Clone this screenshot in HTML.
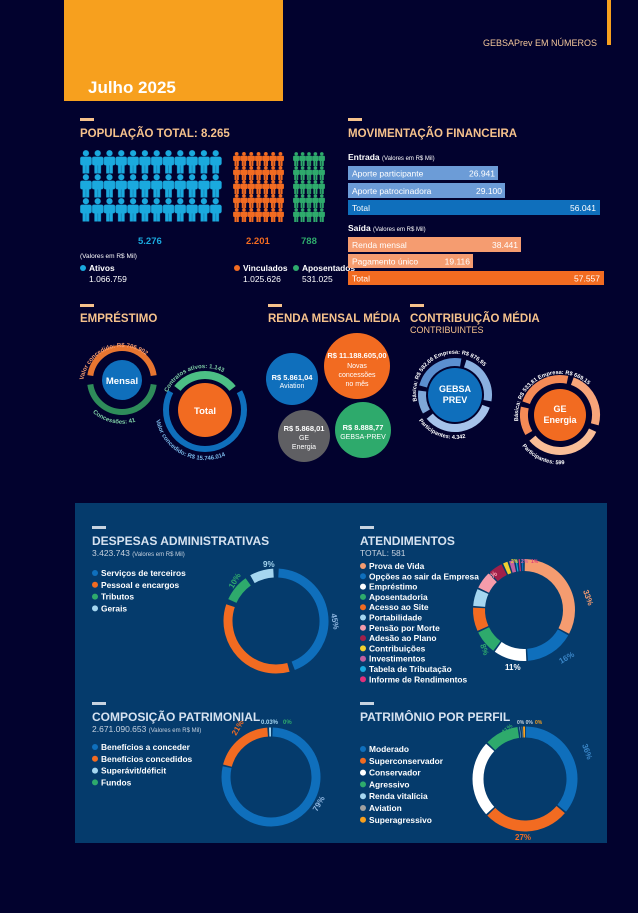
<!DOCTYPE html>
<html><head><meta charset="utf-8"><style>
html,body{margin:0;padding:0;background:#02022e;width:638px;height:913px;overflow:hidden}
svg{display:block;font-family:"Liberation Sans",sans-serif}
.t{font-weight:bold;fill:#f6c28c;font-size:11.5px}
.w{fill:#fff}
.lg{font-weight:bold;fill:#fff;font-size:8.4px}
.pt{font-weight:bold;fill:#d6e2f0;font-size:12px}
</style></head><body>
<svg id="s" width="638" height="913" viewBox="0 0 638 913">
<defs>
<pattern id="pc" patternUnits="userSpaceOnUse" width="11.8" height="24" x="80" y="150">
 <circle cx="5.9" cy="3.2" r="3.1" fill="#1aa9de"/><rect x="0.2" y="6.6" width="11.4" height="8.8" rx="2" fill="#1aa9de"/><rect x="2.6" y="13" width="3.2" height="10.5" fill="#1aa9de"/><rect x="6" y="13" width="3.2" height="10.5" fill="#1aa9de"/>
</pattern>
<pattern id="po" patternUnits="userSpaceOnUse" width="7.3" height="14" x="233" y="152">
 <circle cx="3.65" cy="1.9" r="1.9" fill="#f26b21"/><rect x="0.1" y="3.8" width="7.1" height="5.2" rx="1" fill="#f26b21"/><rect x="1.5" y="8" width="2" height="6" fill="#f26b21"/><rect x="3.8" y="8" width="2" height="6" fill="#f26b21"/>
</pattern>
<pattern id="pg" patternUnits="userSpaceOnUse" width="6.4" height="14" x="293" y="152">
 <circle cx="3.2" cy="1.9" r="1.8" fill="#2eaa6c"/><rect x="0.1" y="3.8" width="6.2" height="5.2" rx="1" fill="#2eaa6c"/><rect x="1.2" y="8" width="1.8" height="6" fill="#2eaa6c"/><rect x="3.4" y="8" width="1.8" height="6" fill="#2eaa6c"/>
</pattern>
<path id="m1" d="M83,386 A39,39 0 1 1 161,386"/>
<path id="m2" d="M82,398 A44,44 0 0 0 162,398"/>
<path id="t1" d="M165,400 A41,41 0 0 1 245,400"/>
<path id="t2" d="M156,420 A50,50 0 0 0 254,420"/>
<path id="g1" d="M418,405 A39,39 0 1 1 492,405"/>
<path id="g2" d="M413,410 A45,45 0 0 0 497,410"/>
<path id="e1" d="M519,425 A42,42 0 1 1 601,425"/>
<path id="e2" d="M514,430 A48,48 0 0 0 606,430"/>
</defs>

<rect x="64" y="0" width="219" height="101" fill="#f7a01e"/>
<text x="88" y="93" class="w" font-size="17" font-weight="bold">Julho 2025</text>
<rect x="607" y="0" width="4" height="45" fill="#f7a01e"/>
<text x="597" y="46" text-anchor="end" font-size="9" fill="#f3c79a">GEBSAPrev EM NÚMEROS</text>

<rect x="80" y="118" width="14" height="3" fill="#f6c28c"/>
<text x="80" y="137" class="t">POPULAÇÃO TOTAL: 8.265</text>
<rect x="80" y="150" width="142" height="72" fill="url(#pc)"/>
<rect x="233" y="152" width="51" height="70" fill="url(#po)"/>
<rect x="293" y="152" width="32" height="70" fill="url(#pg)"/>
<text x="138" y="244" font-size="9.5" font-weight="bold" fill="#1aa9de">5.276</text>
<text x="246" y="244" font-size="9.5" font-weight="bold" fill="#f26b21">2.201</text>
<text x="301" y="244" font-size="9.5" font-weight="bold" fill="#2eaa6c">788</text>
<text x="80" y="258" font-size="6.5" class="w">(Valores em R$ Mil)</text>
<circle cx="83" cy="268" r="3" fill="#1aa9de"/><text x="89" y="271" class="lg">Ativos</text><text x="89" y="282" font-size="8.5" class="w">1.066.759</text>
<circle cx="237" cy="268" r="3" fill="#f26b21"/><text x="243" y="271" class="lg">Vinculados</text><text x="243" y="282" font-size="8.5" class="w">1.025.626</text>
<circle cx="296" cy="268" r="3" fill="#2eaa6c"/><text x="302" y="271" class="lg">Aposentados</text><text x="302" y="282" font-size="8.5" class="w">531.025</text>

<rect x="348" y="118" width="14" height="3" fill="#f6c28c"/>
<text x="348" y="137" class="t">MOVIMENTAÇÃO FINANCEIRA</text>
<text x="348" y="160" class="w" font-size="8.5" font-weight="bold">Entrada <tspan font-size="6" font-weight="normal">(Valores em R$ Mil)</tspan></text>
<rect x="348" y="166" width="150" height="14" fill="#6c9cd7"/><text x="352" y="176.5" class="w" font-size="8.5">Aporte participante</text><text x="495" y="176.5" text-anchor="end" class="w" font-size="8.5">26.941</text>
<rect x="348" y="183" width="157" height="15" fill="#6c9cd7"/><text x="352" y="194" class="w" font-size="8.5">Aporte patrocinadora</text><text x="502" y="194" text-anchor="end" class="w" font-size="8.5">29.100</text>
<rect x="348" y="200" width="252" height="15" fill="#0f6fbc"/><text x="352" y="211" class="w" font-size="8.5">Total</text><text x="596" y="211" text-anchor="end" class="w" font-size="8.5">56.041</text>
<text x="348" y="231" class="w" font-size="8.5" font-weight="bold">Saída <tspan font-size="6" font-weight="normal">(Valores em R$ Mil)</tspan></text>
<rect x="348" y="237" width="173" height="15" fill="#f59c70"/><text x="352" y="248" class="w" font-size="8.5">Renda mensal</text><text x="518" y="248" text-anchor="end" class="w" font-size="8.5">38.441</text>
<rect x="348" y="254" width="125" height="14" fill="#f59c70"/><text x="352" y="264.5" class="w" font-size="8.5">Pagamento único</text><text x="470" y="264.5" text-anchor="end" class="w" font-size="8.5">19.116</text>
<rect x="348" y="271" width="256" height="14" fill="#f26b21"/><text x="352" y="281.5" class="w" font-size="8.5">Total</text><text x="600" y="281.5" text-anchor="end" class="w" font-size="8.5">57.557</text>

<rect x="80" y="304" width="14" height="3" fill="#f6c28c"/>
<text x="80" y="322" class="t">EMPRÉSTIMO</text>
<rect x="268" y="304" width="14" height="3" fill="#f6c28c"/>
<text x="268" y="322" class="t">RENDA MENSAL MÉDIA</text>
<rect x="410" y="304" width="14" height="3" fill="#f6c28c"/>
<text x="410" y="322" class="t">CONTRIBUIÇÃO MÉDIA</text>
<text x="410" y="333" font-size="9" fill="#f6c28c">CONTRIBUINTES</text>

<g id="rings"></g>

<circle cx="122" cy="380" r="20" fill="#0f6fbc"/><text x="122" y="384" text-anchor="middle" class="w" font-size="9.5" font-weight="bold">Mensal</text>
<circle cx="205" cy="410" r="27" fill="#f26b21"/><text x="205" y="414" text-anchor="middle" class="w" font-size="9.5" font-weight="bold">Total</text>
<text font-size="6" font-weight="bold" fill="#f59c70"><textPath href="#m1" startOffset="6">Valor concedido:   R$ 706.902</textPath></text>
<text font-size="6" font-weight="bold" fill="#7fd0a6"><textPath href="#m2" startOffset="18">Concessões: 41</textPath></text>
<text font-size="6" font-weight="bold" fill="#7fd0a6"><textPath href="#t1" startOffset="8">Contratos ativos: 1.143</textPath></text>
<text font-size="6" font-weight="bold" fill="#7ab8e8"><textPath href="#t2">Valor concedido:    R$ 15.746.014</textPath></text>

<circle cx="292" cy="379" r="26" fill="#0f6fbc"/>
<text x="292" y="380" text-anchor="middle" class="w" font-size="7.5" font-weight="bold">R$ 5.861,04</text><text x="292" y="388" text-anchor="middle" class="w" font-size="7">Aviation</text>
<circle cx="357" cy="366" r="33" fill="#f26b21"/>
<text x="357" y="358" text-anchor="middle" class="w" font-size="7.5" font-weight="bold">R$ 11.188.605,00</text><text x="357" y="368" text-anchor="middle" class="w" font-size="7">Novas</text><text x="357" y="377" text-anchor="middle" class="w" font-size="7">concessões</text><text x="357" y="386" text-anchor="middle" class="w" font-size="7">no mês</text>
<circle cx="304" cy="436" r="26" fill="#5f5f63"/>
<text x="304" y="431" text-anchor="middle" class="w" font-size="7.5" font-weight="bold">R$ 5.868,01</text><text x="304" y="440" text-anchor="middle" class="w" font-size="7">GE</text><text x="304" y="449" text-anchor="middle" class="w" font-size="7">Energia</text>
<circle cx="363" cy="430" r="28" fill="#2eaa6c"/>
<text x="363" y="430" text-anchor="middle" class="w" font-size="7.5" font-weight="bold">R$ 8.888,77</text><text x="363" y="439" text-anchor="middle" class="w" font-size="7">GEBSA-PREV</text>

<circle cx="455" cy="395" r="27" fill="#0f6fbc"/>
<text x="455" y="392" text-anchor="middle" class="w" font-size="9" font-weight="bold">GEBSA</text><text x="455" y="403" text-anchor="middle" class="w" font-size="9" font-weight="bold">PREV</text>
<circle cx="560" cy="415" r="26" fill="#f26b21"/>
<text x="560" y="412" text-anchor="middle" class="w" font-size="9" font-weight="bold">GE</text><text x="560" y="423" text-anchor="middle" class="w" font-size="9" font-weight="bold">Energia</text>
<text font-size="5.6" font-weight="bold" class="w"><textPath href="#g1" startOffset="4">Básica:   R$ 582,66     Empresa:    R$ 876,95</textPath></text>
<text font-size="5.6" font-weight="bold" class="w"><textPath href="#g2" startOffset="12">Participantes: 4.342</textPath></text>
<text font-size="5.6" font-weight="bold" class="w"><textPath href="#e1" startOffset="4">Básica:   R$ 533,81     Empresa:    R$ 669,15</textPath></text>
<text font-size="5.6" font-weight="bold" class="w"><textPath href="#e2" startOffset="18">Participantes: 599</textPath></text>

<rect x="75" y="503" width="532" height="340" fill="#053b6c"/>
<g id="don"></g>
<rect x="92" y="526" width="14" height="3" fill="#c8d3e0"/>
<text x="92" y="545" class="pt">DESPESAS ADMINISTRATIVAS</text>
<text x="92" y="556" font-size="8.5" fill="#c8d3e0">3.423.743 <tspan font-size="6">  (Valores em R$ Mil)</tspan></text>
<rect x="360" y="526" width="14" height="3" fill="#c8d3e0"/>
<text x="360" y="545" class="pt">ATENDIMENTOS</text>
<text x="360" y="556" font-size="8.5" fill="#c8d3e0">TOTAL: 581</text>
<rect x="92" y="702" width="14" height="3" fill="#c8d3e0"/>
<text x="92" y="721" class="pt">COMPOSIÇÃO PATRIMONIAL</text>
<text x="92" y="732" font-size="8.5" fill="#c8d3e0">2.671.090.653 <tspan font-size="6"> (Valores em R$ Mil)</tspan></text>
<rect x="360" y="702" width="14" height="3" fill="#c8d3e0"/>
<text x="360" y="721" class="pt">PATRIMÔNIO POR PERFIL</text>

<g font-size="8" font-weight="bold">
<text x="331" y="614" fill="#8fb6e0" transform="rotate(80 331 614)">45%</text>
<text x="229" y="641" fill="#f26b21" transform="rotate(60 229 641)">36%</text>
<text x="233" y="589" fill="#2eaa6c" transform="rotate(-60 233 589)">10%</text>
<text x="263" y="567" fill="#a5d6f0">9%</text>
<text x="583" y="591" fill="#f59c70" transform="rotate(70 583 591)">33%</text>
<text x="561" y="664" fill="#3a86c8" transform="rotate(-30 561 664)">16%</text>
<text x="505" y="670" fill="#fff">11%</text>
<text x="480" y="645" fill="#2eaa6c" transform="rotate(70 480 645)">8%</text>
<text x="475" y="618" fill="#f26b21" transform="rotate(80 475 618)">8%</text>
<text x="481" y="603" fill="#a5d6f0" transform="rotate(-70 481 603)">6%</text>
<text x="489" y="582" fill="#f59cab" transform="rotate(-40 489 582)">6%</text>
<text x="317" y="812" fill="#8fb6e0" transform="rotate(-60 317 812)">79%</text>
<text x="236" y="736" fill="#f26b21" transform="rotate(-60 236 736)">21%</text>
<text x="261" y="724" font-size="6" fill="#a5d6f0">0.03%</text><text x="283" y="724" font-size="6" fill="#2eaa6c">0%</text>
<text x="582" y="745" fill="#3a86c8" transform="rotate(70 582 745)">36%</text>
<text x="515" y="840" fill="#f26b21">27%</text>
<text x="476" y="770" fill="#fff" transform="rotate(90 476 770)">24%</text>
<text x="504" y="734" font-size="6" fill="#2eaa6c" transform="rotate(-40 504 734)">11%</text>
<text x="517" y="724" font-size="5" fill="#c8d3e0">0% 0%</text><text x="535" y="724" font-size="5" fill="#f7a01e">0%</text>
<text x="511" y="563" font-size="5" fill="#f0d030">2%</text><text x="521" y="563" font-size="5" fill="#d060a0">2%</text><text x="531" y="563" font-size="5" fill="#e0407a">1%</text>
</g>
</svg>
<script>
var NS="http://www.w3.org/2000/svg",g=document.getElementById("rings"),dg=document.getElementById("don"),svg=document.getElementById("s");
function pt(cx,cy,r,a){a=(a-90)*Math.PI/180;return [cx+r*Math.cos(a),cy+r*Math.sin(a)];}
function arc(cx,cy,r,w,a0,a1,c,par){var p=document.createElementNS(NS,"path");var s=pt(cx,cy,r,a0),e=pt(cx,cy,r,a1);var lg=(a1-a0)>180?1:0;
p.setAttribute("d","M"+s[0]+","+s[1]+" A"+r+","+r+" 0 "+lg+" 1 "+e[0]+","+e[1]);p.setAttribute("fill","none");p.setAttribute("stroke",c);p.setAttribute("stroke-width",w);(par||g).appendChild(p);}
function donut(cx,cy,r,w,start,segs,gap){var a=start;segs.forEach(function(s){var d=s[0]*3.6;if(d>gap+0.5)arc(cx,cy,r,w,a+gap/2,a+d-gap/2,s[1],dg);else arc(cx,cy,r,w,a,a+Math.max(d,1),s[1],dg);a+=d;});}
arc(122,380,32,6,-82,82,"#e87530");arc(122,380,32,6,98,262,"#2e8c5a");
arc(205,410,39,6,62,298,"#0f6fbc");arc(205,410,35,8,-52,52,"#4cbf85");
[[-75,10,"#5b8fd0"],[18,100,"#8ab0e0"],[110,230,"#a6c3ea"],[240,277,"#7ea7d8"]].forEach(function(s){arc(455,395,33,8,s[0],s[1],s[2]);});
[[-70,12,"#f58a56"],[20,105,"#f7a57a"],[115,230,"#f9bd97"],[240,282,"#f58a56"]].forEach(function(s){arc(560,415,36,8,s[0],s[1],s[2]);});
donut(276,621,48,9,0,[[45,"#0f6fbc"],[36,"#f26b21"],[10,"#2eaa6c"],[9,"#a5d6f0"]],6);
donut(524,610,45,12,0,[[33,"#f59c70"],[16,"#0f6fbc"],[11,"#ffffff"],[8,"#2eaa6c"],[8,"#f26b21"],[6,"#a5d6f0"],[6,"#f59cab"],[5,"#a0204a"],[2,"#f0d030"],[2,"#c060a0"],[1,"#1aa9de"],[1,"#e0307a"],[1,"#0f6fbc"]],2);
donut(271,777,45,9,1,[[78.5,"#0f6fbc"],[20.3,"#f26b21"],[1.2,"#a5d6f0"]],2);
donut(525,779,47,11,0,[[36,"#0f6fbc"],[27,"#f26b21"],[24,"#ffffff"],[11,"#2eaa6c"],[0.7,"#a5d6f0"],[0.7,"#a0a0a0"],[0.6,"#f7a01e"]],2);
function leg(x,y,dy,items){items.forEach(function(it,i){var c=document.createElementNS(NS,"circle");c.setAttribute("cx",x+3);c.setAttribute("cy",y+i*dy-3);c.setAttribute("r",3);c.setAttribute("fill",it[1]);svg.appendChild(c);
var t=document.createElementNS(NS,"text");t.setAttribute("x",x+9);t.setAttribute("y",y+i*dy);t.setAttribute("class","lg");t.textContent=it[0];svg.appendChild(t);});}
leg(92,576,11.8,[["Serviços de terceiros","#0f6fbc"],["Pessoal e encargos","#f26b21"],["Tributos","#2eaa6c"],["Gerais","#a5d6f0"]]);
leg(360,569,10.3,[["Prova de Vida","#f59c70"],["Opções ao sair da Empresa","#0f6fbc"],["Empréstimo","#ffffff"],["Aposentadoria","#2eaa6c"],["Acesso ao Site","#f26b21"],["Portabilidade","#a5d6f0"],["Pensão por Morte","#f59cab"],["Adesão ao Plano","#a0204a"],["Contribuições","#f0d030"],["Investimentos","#c060a0"],["Tabela de Tributação","#1aa9de"],["Informe de Rendimentos","#e0307a"]]);
leg(92,750,11.8,[["Benefícios a conceder","#0f6fbc"],["Benefícios concedidos","#f26b21"],["Superávit/déficit","#a5d6f0"],["Fundos","#2eaa6c"]]);
leg(360,752,11.8,[["Moderado","#0f6fbc"],["Superconservador","#f26b21"],["Conservador","#ffffff"],["Agressivo","#2eaa6c"],["Renda vitalícia","#a5d6f0"],["Aviation","#a0a0a0"],["Superagressivo","#f7a01e"]]);
</script>
</body></html>
